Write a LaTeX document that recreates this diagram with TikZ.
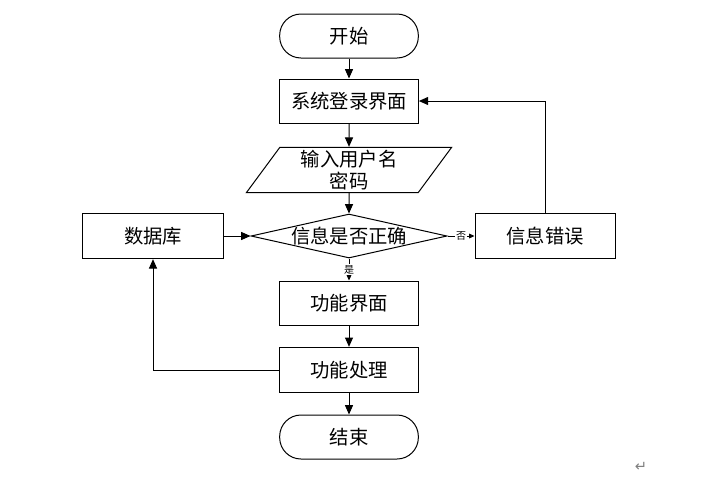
\documentclass[tikz,border=0pt]{standalone}
\usepackage{fontspec}
\newfontfamily\cjk{Noto Sans CJK SC}
\newfontfamily\symfont{DejaVu Sans}
\usetikzlibrary{shapes.geometric,arrows.meta}

\begin{document}
\begin{tikzpicture}[x=0.75pt,y=-0.75pt,line width=0.75pt,
        every node/.style={font=\cjk\fontsize{14.5}{17}\selectfont},
        terminal/.style={draw,rectangle,rounded corners=16pt,minimum width=104pt,minimum height=33pt,inner sep=0pt},
        process/.style={draw,rectangle,minimum width=104pt,minimum height=33pt,inner sep=0pt},
        inputbox/.style={draw,trapezium,trapezium left angle=60,trapezium right angle=120,trapezium stretches=true,minimum width=154pt,minimum height=34pt,inner sep=0pt,align=center},
        decision/.style={draw,diamond,aspect=4.45,minimum width=147pt,minimum height=33pt,inner sep=-1pt},
        line/.style={draw,-{Triangle[length=7pt,width=6pt]}},
        thin line/.style={draw,-{Triangle[length=4pt,width=3.5pt]}},
        small/.style={font=\cjk\fontsize{7.5}{9}\selectfont,fill=white,inner sep=0.5pt}
    ]
        \useasboundingbox (0,0) rectangle (707,479);

        % flow nodes
        \node[terminal] (start) at (349,36) {开始};
        \node[process] (login) at (349,101) {系统登录界面};
        \node[inputbox] (input) at (349,170) {输入用户名\\密码};
        \node[decision] (check) at (349,236) {信息是否正确};
        \node[process,minimum width=106pt,minimum height=34pt] (db) at (153,236) {数据库};
        \node[process,minimum width=105pt,minimum height=34pt] (err) at (545,236) {信息错误};
        \node[process] (func) at (349,303) {功能界面};
        \node[process,minimum height=34pt] (proc) at (349,370) {功能处理};
        \node[terminal] (end) at (349,437) {结束};

        % connectors
        \draw[line] (start) -- (login);
        \draw[line] (login) -- (input);
        \draw[line] (input) -- (check);
        \draw[line] (db) -- (check);
        \draw[thin line] (check) -- node[small] {否} (err);
        \draw[thin line] (check) -- node[small] {是} (func);
        \draw[line] (func) -- (proc);
        \draw[line] (proc) -- (end);
        \draw[line] (err) |- (login);
        \draw[line] (proc) -| (db);

        \node[text=gray,font=\symfont\fontsize{11}{12}\selectfont] (mark) at (641,467) {↵};
    \end{tikzpicture}
\end{document}
